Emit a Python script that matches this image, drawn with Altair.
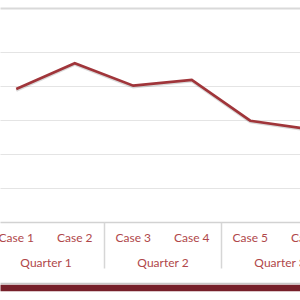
import altair as alt
import pandas as pd

cases = ["Case 1", "Case 2", "Case 3", "Case 4", "Case 5", "Case 6"]
values = [39.1, 46.7, 40.1, 41.8, 29.8, 27.3]
quarters = ["Quarter 1", "Quarter 2", "Quarter 3"]

case_idx = list(range(1, len(cases) + 1))
quarter_centers = [1.5, 3.5, 5.5]
separators = [0.5, 2.5, 4.5, 6.5]

df = pd.DataFrame({"idx": case_idx, "case": cases, "value": values})
qdf = pd.DataFrame({"pos": quarter_centers, "quarter": quarters})
sdf = pd.DataFrame({"pos": separators})

FONT = "Lato"
TXT = "#b0474a"
GRID = "#e4e4e4"
XDOM = [0.7222, 5.8504]
YDOM = [0, 62.94]

q_expr = "[" + ",".join("'%s'" % q for q in quarters) + "][round((datum.value - 1.5) / 2)]"

xscale = alt.Scale(domain=XDOM, nice=False, zero=False)
yscale = alt.Scale(domain=YDOM, nice=False, zero=False)

yaxis = alt.Axis(values=[10, 20, 30, 40, 50], grid=True, gridColor=GRID, gridWidth=1.2,
                 labels=False, ticks=False, domain=False)

base_x_axis = alt.Axis(orient="bottom", labels=False, ticks=False, domain=True,
                       domainColor="#d2d2d2", domainWidth=1.5, grid=False)

shadow = alt.Chart(df).mark_line(color="#000000", opacity=0.15, strokeWidth=3, yOffset=1.2, clip=True).encode(
    x=alt.X("idx:Q", scale=xscale, title=None, axis=base_x_axis),
    y=alt.Y("value:Q", scale=yscale, title=None, axis=yaxis),
)

line = alt.Chart(df).mark_line(color="#a0353a", strokeWidth=2.6, clip=True).encode(
    x=alt.X("idx:Q", scale=xscale, title=None, axis=base_x_axis),
    y=alt.Y("value:Q", scale=yscale, title=None, axis=yaxis),
)

case_labels = alt.Chart(df).mark_text(font=FONT, fontSize=12, color=TXT, baseline="middle", align="center").encode(
    x=alt.X("idx:Q", scale=xscale, title=None, axis=base_x_axis),
    y=alt.value(230),
    text="case:N",
)

quarter_layer = alt.Chart(qdf).mark_point(opacity=0).encode(
    x=alt.X("pos:Q", scale=xscale, title=None,
            axis=alt.Axis(orient="bottom", values=quarter_centers, labelExpr=q_expr, ticks=False,
                          domain=False, grid=False, labelPadding=40, labelBaseline="middle",
                          labelColor=TXT, labelFont=FONT, labelFontSize=12, labelFlush=False,
                          labelOverlap=False)),
)

sep_layer = alt.Chart(sdf).mark_point(opacity=0).encode(
    x=alt.X("pos:Q", scale=xscale, title=None,
            axis=alt.Axis(orient="bottom", values=separators, labels=False, ticks=True,
                          tickSize=46, tickColor="#d6d6d6", tickWidth=1.5,
                          domain=False, grid=False)),
)

top_layer = alt.Chart(sdf).mark_point(opacity=0).encode(
    x=alt.X("pos:Q", scale=xscale, title=None,
            axis=alt.Axis(orient="top", labels=False, ticks=False, domain=True,
                          domainColor="#d9d9d9", domainWidth=2.2, grid=False)),
)

shadow_bar = alt.Chart(sdf).mark_point(opacity=0).encode(
    x=alt.X("pos:Q", scale=xscale, title=None,
            axis=alt.Axis(orient="bottom", labels=False, ticks=False, domain=True,
                          domainColor="#c8c8c8", domainWidth=1.5, grid=False, offset=61)),
)

red_bar = alt.Chart(sdf).mark_point(opacity=0).encode(
    x=alt.X("pos:Q", scale=xscale, title=None,
            axis=alt.Axis(orient="bottom", labels=False, ticks=False, domain=True,
                          domainColor="#76202a", domainWidth=6.5, grid=False, offset=65.5)),
)

lines = alt.layer(shadow, line, case_labels)

chart = alt.layer(lines, quarter_layer, sep_layer, top_layer, shadow_bar, red_bar).resolve_axis(
    x="independent"
).properties(
    width=300, height=214,
    padding={"left": 0, "right": 0, "top": 8, "bottom": 78},
    autosize=alt.AutoSizeParams(type="none"),
    background="white",
).configure_view(stroke=None)

chart.save("out.html", embed_options={"renderer": "svg", "actions": False})
